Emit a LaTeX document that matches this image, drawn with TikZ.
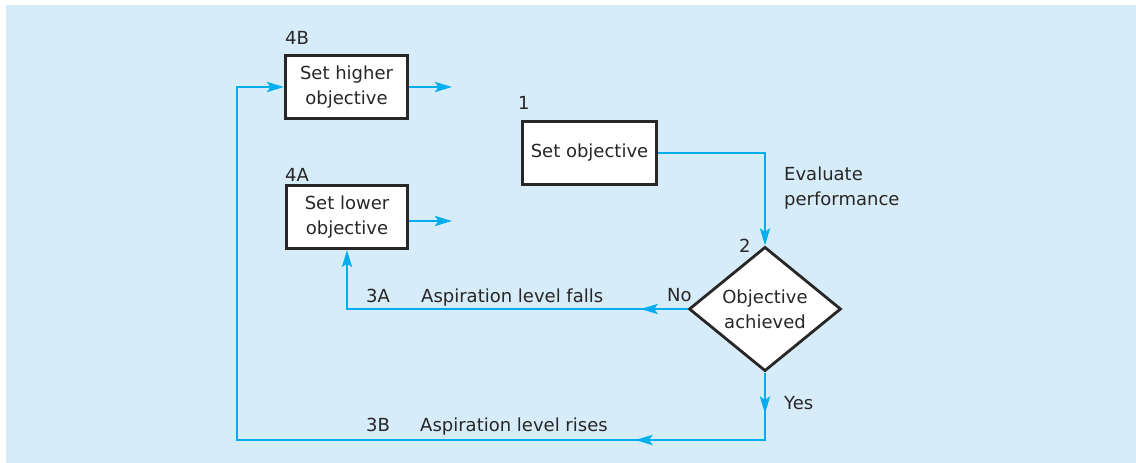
\documentclass[tikz,border=0pt]{standalone}
\usepackage{fontspec}
\setmainfont{DejaVu Sans}
\usetikzlibrary{shapes.geometric,arrows.meta,decorations.markings}
\definecolor{bg}{RGB}{214,236,249}
\definecolor{flow}{RGB}{0,174,239}
\definecolor{ink}{RGB}{40,38,38}
\tikzset{arr/.tip={Stealth[length=17pt,width=10pt,inset=3.5pt]}}
\begin{document}
\begin{tikzpicture}[x=1pt,y=-1pt,
  every node/.style={font=\fontsize{18}{25}\selectfont, text=ink},
  box/.style={draw=ink, line width=3pt, fill=white, inner sep=0pt, align=center, minimum height=63pt},
  dec/.style={diamond, draw=ink, line width=2.8pt, fill=white, inner sep=0pt, minimum width=152pt, minimum height=120pt, align=center},
  conn/.style={draw=flow, line width=2.9pt},
  tip/.style={-arr},
  lbl/.style={anchor=base west, inner sep=0pt}]
\fill[white] (0,0) rectangle (1136,463);
\fill[bg] (6,5) rectangle (1136,463);

\node[box, minimum width=122pt] (b4) at (346.5,87) {Set higher\\objective};
\node[box, minimum width=121pt] (b4a) at (347,217) {Set lower\\objective};
\node[box, minimum width=134pt] (b1) at (589.5,153) {Set objective};
\node[dec] (d2) at (765,309) {Objective\\achieved};

\node[lbl] (l4b) at (285,45) {4B};
\node[lbl] (l4a) at (285,181) {4A};
\node[lbl] (l1) at (518,109) {1};
\node[lbl, align=left] (ev) at (784,205) {Evaluate\\performance};
\node[lbl] (l2) at (739,252) {2};
\node[lbl] (no) at (667,301) {No};
\node[lbl] (l3a) at (366,302) {3A};
\node[lbl] (t3a) at (421,302) {Aspiration level falls};
\node[lbl] (l3b) at (366,431) {3B};
\node[lbl] (t3b) at (420,431) {Aspiration level rises};
\node[lbl] (yes) at (784,409) {Yes};

\coordinate (e4b) at (452,87);
\coordinate (e4a) at (452,221);
\coordinate (kb1) at (765,440);
\coordinate (kb2) at (237,440);
\coordinate (kb3) at (237,87);

\draw[conn,tip] (b4.east) -- (e4b);
\draw[conn,tip] (e4a -| b4a.east) -- (e4a);
\draw[conn,tip] (b1.east) -- (b1.east -| d2.north) -- (d2.north);
\draw[conn,tip,postaction={decorate},
  decoration={markings, mark=at position 47pt with {\arrow{arr}}}]
  (d2.west) -- (d2.west -| b4a.south) -- (b4a.south);
\draw[conn,tip,postaction={decorate},
  decoration={markings, mark=at position 41pt with {\arrow{arr}},
                        mark=at position 197pt with {\arrow{arr}}}]
  (d2.south) -- (kb1) -- (kb2) -- (kb3) -- (b4.west);
\end{tikzpicture}
\end{document}
